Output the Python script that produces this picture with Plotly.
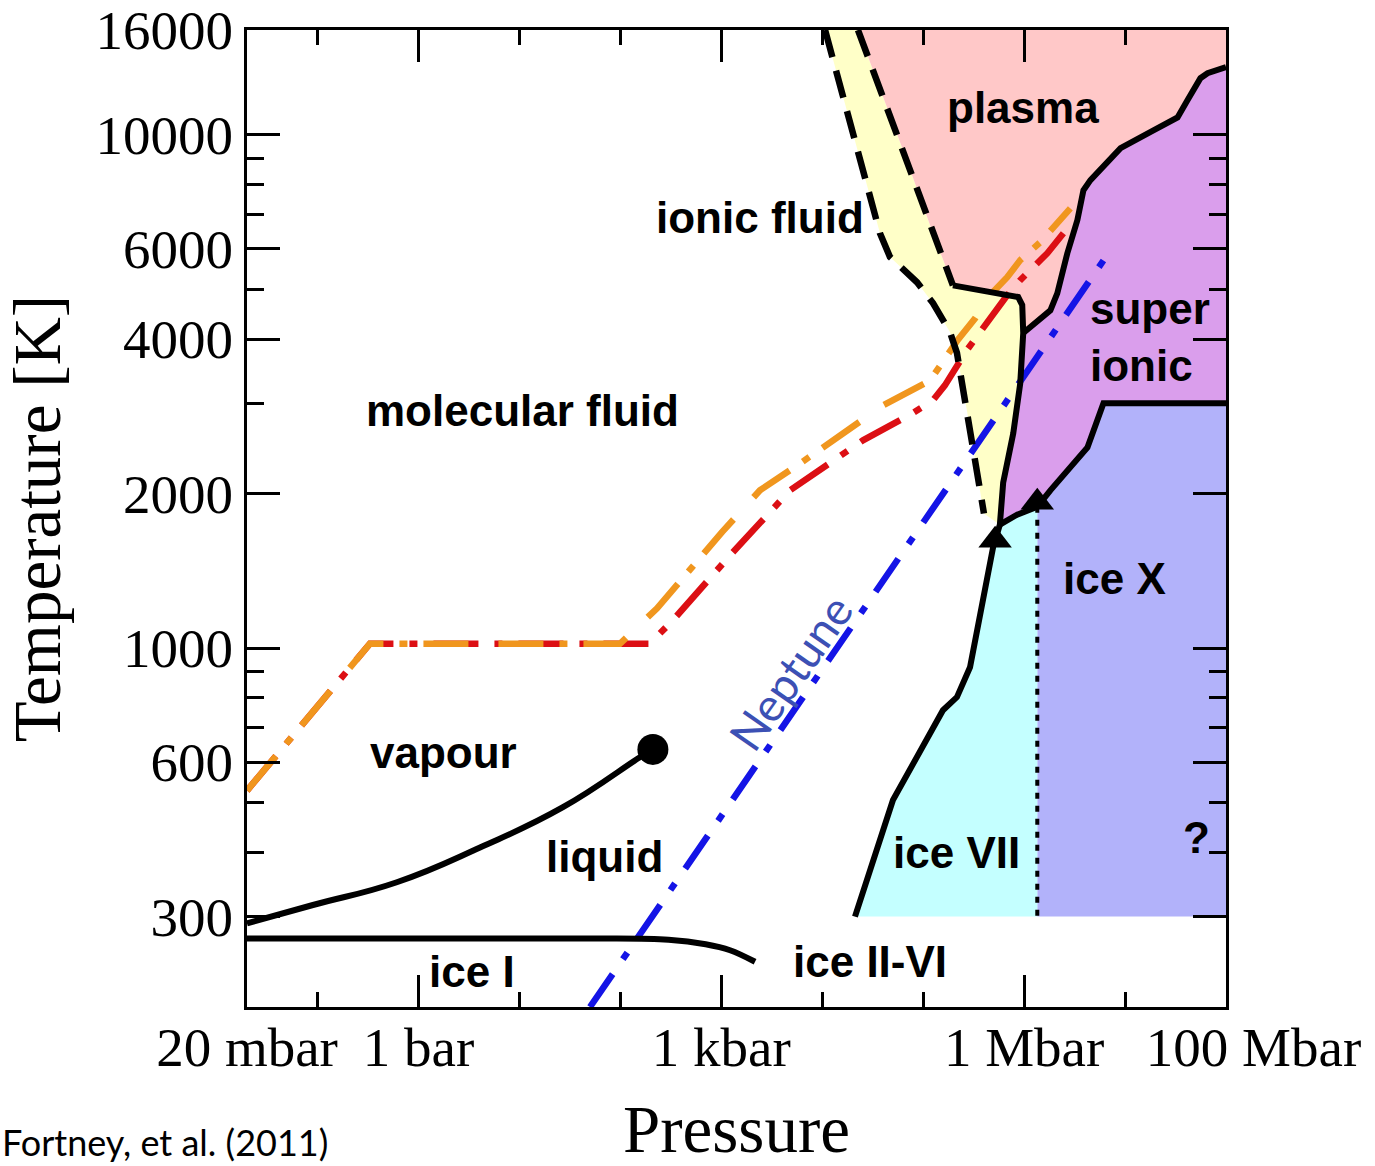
import numpy as np
import plotly.graph_objects as go

# ---------------- axes / ticks ----------------
p_range = [0.02, 1e8]          # bar
t_range = [200, 16000]         # K
x_tick_vals = [0.02, 1, 1e3, 1e6, 1e8]
x_tick_labels = ["20 mbar", "1 bar", "1 kbar", "1 Mbar", "\u00a0\u00a0\u00a0\u00a0100 Mbar"]
x_minor_vals = [0.1, 10, 100, 1e4, 1e5, 1e7]
y_tick_vals = [300, 600, 1000, 2000, 4000, 6000, 10000, 16000]
y_tick_labels = ["300", "600", "1000", "2000", "4000", "6000", "10000", "16000"]
y_minor_vals = [400, 500, 700, 800, 900, 3000, 5000, 7000, 8000, 9000]

# ---------------- phase boundaries (P in bar, T in K) ----------------
melt_P = [21100, 50200, 157000, 216000, 291000, 493000, 575000]
melt_T = [300, 506, 757, 803, 918, 1573, 1740]

ionic_right_P = [575000, 620000, 780000, 915000, 980000, 958000, 873000, 197000]
ionic_right_T = [1740, 2100, 2620, 3280, 4110, 4660, 4830, 5090]

super_P = [980000, 1.82e6, 2.13e6, 2.68e6, 3.37e6, 3.87e6, 4.54e6, 9.02e6, 1.91e7, 3.31e7, 4.15e7, 5.58e7, 6.56e7, 1e8]
super_T = [4110, 4550, 4910, 5880, 6820, 7800, 8160, 9420, 10200, 10810, 11670, 12890, 13180, 13550]

icex_top_P = [575000, 853000, 1.35e6, 1.82e6, 4.24e6, 6.11e6, 1e8]
icex_top_T = [1740, 1820, 1885, 2030, 2460, 3000, 3000]

ionic_left_P = [10670, 37300, 46900, 86900, 125000, 184000, 216000, 248000, 305000, 383000, 400000]
ionic_left_T = [16000, 6430, 5780, 5160, 4700, 4130, 3760, 3220, 2540, 1915, 1830]

ionic_plasma_P = [22600, 63100, 125000, 197000]
ionic_plasma_T = [16000, 9340, 6430, 5090]

vii_x_P = [1.35e6, 1.35e6]
vii_x_T = [1885, 300]
ice_floor_T = 300

vap_P = [0.02, 0.09, 0.61, 4.07, 27, 156, 210]
vap_T = [291, 316, 350, 409, 490, 613, 635]
crit_P = [210]
crit_T = [635]

iceI_P = [0.02, 50, 300, 700, 1220, 2160]
iceI_T = [272, 272, 270.5, 265, 258, 245]

triple_P = [516000, 1.35e6]
triple_T = [1623, 1925]

orange_P = [0.02, 0.33, 99, 231, 1016, 2415, 6030, 40000, 116700, 221000, 327000, 440000, 680000, 915000, 1.45e6, 2.87e6]
orange_T = [528, 1020, 1020, 1196, 1683, 2030, 2290, 2970, 3320, 3990, 4390, 4830, 5280, 5700, 6180, 7190]
red_P = [0.02, 0.33, 196, 332, 1277, 4800, 25300, 79200, 125000, 164000, 272000, 440000, 649000, 915000, 1.70e6, 2.45e6]
red_T = [528, 1020, 1020, 1134, 1531, 2030, 2540, 2870, 3040, 3250, 3810, 4360, 4810, 5210, 5880, 6430]
nep_P = [50, 7.18e6]
nep_T = [200, 5960]

# ---------------- region labels ----------------
label_text = ["plasma", "ionic fluid", "molecular fluid", "vapour", "liquid", "ice I",
              "ice II-VI", "ice VII", "ice X", "?"]
label_P = [9.77e5, 2415, 10.8, 1.75, 70.4, 3.39, 29700, 216000, 7.94e6, 5.16e7]
label_T = [11320, 6910, 2909, 627, 392, 234, 245, 400, 1369, 427]
super_lbl_P = 4.3e6
super_lbl_T = 4030
nep_lbl_P = 4790
nep_lbl_T = 898

C_PLASMA = "#FFC8C8"
C_SUPER = "#DA9EEC"
C_ICEX = "#B2B2FA"
C_ICEVII = "#C4FFFF"
C_IONIC = "#FFFFC8"
C_ORANGE = "#F0961E"
C_RED = "#DC0F14"
C_BLUE = "#1414E6"

fig = go.Figure()

def poly(P, T, color):
    fig.add_trace(go.Scatter(x=P, y=T, mode="lines", fill="toself", fillcolor=color,
                             line=dict(width=0, color=color), hoverinfo="skip"))

# ionic fluid (yellow)
poly(ionic_left_P + ionic_right_P + ionic_plasma_P[::-1],
     ionic_left_T + ionic_right_T + ionic_plasma_T[::-1], C_IONIC)
# plasma
poly(ionic_plasma_P + ionic_right_P[:3:-1] + super_P[1:] + [p_range[1], ionic_plasma_P[0]],
     ionic_plasma_T + ionic_right_T[:3:-1] + super_T[1:] + [t_range[1], t_range[1]], C_PLASMA)
# superionic
poly(super_P + [p_range[1]] + icex_top_P[::-1] + ionic_right_P[1:5],
     super_T + [icex_top_T[-1]] + icex_top_T[::-1] + ionic_right_T[1:5], C_SUPER)
# ice X
poly(icex_top_P[2:] + [p_range[1], vii_x_P[0]],
     icex_top_T[2:] + [ice_floor_T, ice_floor_T], C_ICEX)
# ice VII
poly(melt_P + icex_top_P[1:3] + [vii_x_P[0]],
     melt_T + icex_top_T[1:3] + [ice_floor_T], C_ICEVII)

def line(P, T, color="black", width=6, dash="solid", shape="linear", smooth=None):
    ld = dict(color=color, width=width, dash=dash, shape=shape)
    if smooth is not None:
        ld["smoothing"] = smooth
    fig.add_trace(go.Scatter(x=P, y=T, mode="lines", line=ld, hoverinfo="skip"))

# adiabats and Neptune
line(red_P, red_T, C_RED, 6.5, "45px,16px,8px,16px")
line(orange_P, orange_T, C_ORANGE, 6.5, "45px,16px,8px,16px,45px,30px")
line(nep_P, nep_T, C_BLUE, 6.5, "40px,18px,8px,18px")

# phase boundaries
line(melt_P + ionic_right_P[1:], melt_T + ionic_right_T[1:], "black", 6)
line(super_P, super_T, "black", 6)
line(icex_top_P, icex_top_T, "black", 6)
line(ionic_left_P, ionic_left_T, "black", 6.5, "28px,14px")
line(ionic_plasma_P, ionic_plasma_T, "black", 6.5, "28px,14px")
line(vii_x_P, vii_x_T, "black", 4, "6px,7px")
line(vap_P, vap_T, "black", 6, shape="spline", smooth=1.3)
line(iceI_P, iceI_T, "black", 6, shape="spline")

fig.add_trace(go.Scatter(x=crit_P, y=crit_T, mode="markers",
                         marker=dict(symbol="circle", size=31, color="black"), hoverinfo="skip"))
fig.add_trace(go.Scatter(x=triple_P, y=triple_T, mode="markers",
                         marker=dict(symbol="triangle-up", size=29, color="black"), hoverinfo="skip"))

lab_font = dict(family="Liberation Sans, Arial", size=44, color="black")
for t, p, T in zip(label_text, label_P, label_T):
    fig.add_annotation(x=np.log10(p), y=np.log10(T), xref="x", yref="y", text="<b>%s</b>" % t,
                       showarrow=False, font=lab_font, xanchor="center", yanchor="middle")
fig.add_annotation(x=np.log10(super_lbl_P), y=np.log10(super_lbl_T), xref="x", yref="y",
                   text="<b>super</b><br><b>ionic</b>", showarrow=False, font=lab_font,
                   xanchor="left", yanchor="middle", align="left")

fig.add_annotation(x=np.log10(nep_lbl_P), y=np.log10(nep_lbl_T), xref="x", yref="y", text="Neptune",
                   showarrow=False, textangle=-55,
                   font=dict(family="Lato, Open Sans", size=46, color="#3C50B4"))

fig.add_annotation(x=-247 / 979, y=-159 / 977, xref="paper", yref="paper", text="Fortney, et al. (2011)",
                   showarrow=False, xanchor="left", yanchor="bottom",
                   font=dict(family="Lato, Open Sans", size=36, color="black"))

tick_font = dict(family="Liberation Serif, Times New Roman", size=55, color="black")
title_font = dict(family="Liberation Serif, Times New Roman", size=67, color="black")
eps = 1e-5
fig.update_layout(
    width=1375, height=1166,
    margin=dict(l=247, r=149, t=30, b=159, autoexpand=False),
    paper_bgcolor="white", plot_bgcolor="white",
    showlegend=False,
    xaxis=dict(type="log", range=[np.log10(p_range[0]) - eps, np.log10(p_range[1]) + eps],
               tickmode="array", tickvals=x_tick_vals, ticktext=x_tick_labels, tickangle=0,
               ticks="inside", ticklen=32, tickwidth=3, tickcolor="black", automargin=False,
               ticklabelstandoff=-10,
               showline=True, linewidth=3, linecolor="black", mirror="ticks",
               showgrid=False, zeroline=False, tickfont=tick_font,
               minor=dict(tickmode="array", tickvals=x_minor_vals, ticks="inside", ticklen=15,
                          tickwidth=3, tickcolor="black", showgrid=False),
               title=dict(text="Pressure", font=title_font, standoff=30)),
    yaxis=dict(type="log", range=[np.log10(t_range[0]) - eps, np.log10(t_range[1]) + eps],
               tickmode="array", tickvals=y_tick_vals, ticktext=y_tick_labels, tickangle=0,
               ticks="inside", ticklen=33, tickwidth=3, tickcolor="black", automargin=False,
               showline=True, linewidth=3, linecolor="black", mirror="ticks",
               showgrid=False, zeroline=False, tickfont=tick_font,
               minor=dict(tickmode="array", tickvals=y_minor_vals, ticks="inside", ticklen=17,
                          tickwidth=3, tickcolor="black", showgrid=False),
               title=dict(text="Temperature [K]", font=title_font, standoff=20)),
)

fig.write_html("out.html")
